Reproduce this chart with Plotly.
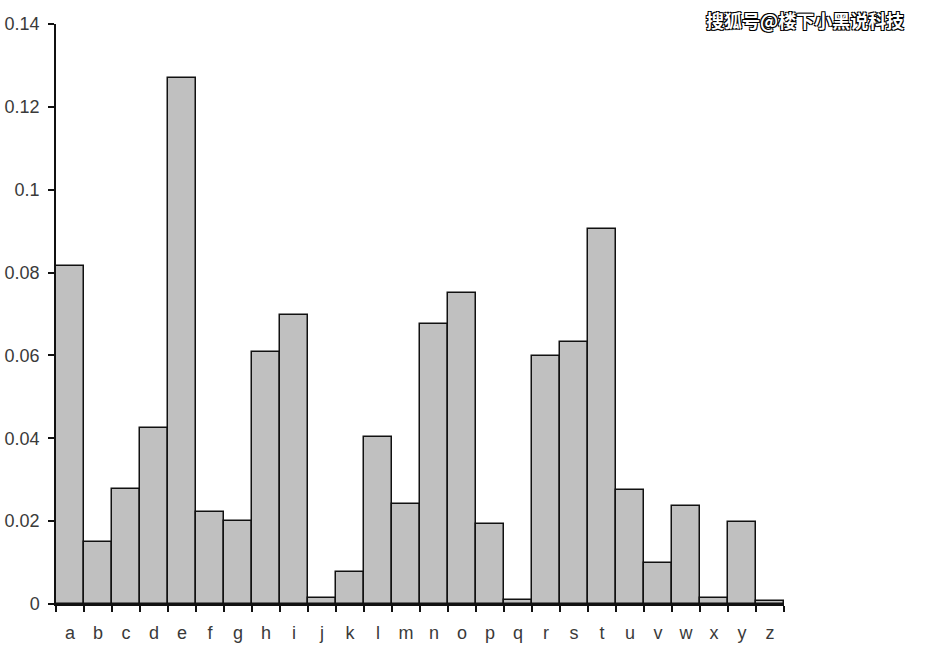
import plotly.graph_objects as graph_objects

# letter frequencies in English text
letters = list("abcdefghijklmnopqrstuvwxyz")
frequencies = [0.08167, 0.01492, 0.02782, 0.04253, 0.12702, 0.02228, 0.02015, 0.06094,
               0.06966, 0.00153, 0.00772, 0.04025, 0.02406, 0.06749, 0.07507, 0.01929,
               0.00095, 0.05987, 0.06327, 0.09056, 0.02758, 0.00978, 0.02360, 0.00150,
               0.01974, 0.00074]
y_ticks = [0, 0.02, 0.04, 0.06, 0.08, 0.1, 0.12, 0.14]
y_tick_labels = ["0", "0.02", "0.04", "0.06", "0.08", "0.1", "0.12", "0.14"]
watermark = "搜狐号@楼下小黑说科技"

fig = graph_objects.Figure()
fig.add_trace(
    graph_objects.Bar(x=letters, y=frequencies, marker_color='#c0c0c0',
                      marker_line=dict(color='#111111', width=1.5))
)

fig.update_layout(
    width=927,
    height=649,
    margin=dict(l=56, r=143, t=24, b=45),
    plot_bgcolor='white',
    paper_bgcolor='white',
    bargap=0,
    showlegend=False,
    font=dict(family='Liberation Sans, Arial, sans-serif', size=18, color='#3a3a3a'),
)
fig.update_xaxes(
    type='category', tickson='boundaries', ticks='outside', ticklen=6, tickwidth=1.5,
    tickcolor='#111111', showline=True, linecolor='#111111', linewidth=1.5,
    showgrid=False, zeroline=False, ticklabelstandoff=12, automargin=False,
    tickfont=dict(size=18, color='#3a3a3a'),
)
fig.update_yaxes(
    range=[0, 0.14], tickvals=y_ticks, ticktext=y_tick_labels, ticks='outside', ticklen=6,
    tickwidth=1.5, tickcolor='#111111', showline=True, linecolor='#111111', linewidth=1.5,
    showgrid=False, zeroline=False, ticklabelstandoff=5, automargin=False,
    tickfont=dict(size=18, color='#3a3a3a'),
)

# watermark in the top right corner
fig.add_annotation(
    text=watermark, xref='paper', yref='paper', x=1.1676, y=1.007,
    xanchor='right', yanchor='middle', showarrow=False,
    font=dict(family='Noto Sans CJK SC', size=18, color='white', weight='bold',
              shadow='1px 1px 0 #000, -1px -1px 0 #000, 1px -1px 0 #000, -1px 1px 0 #000'),
)

# drop the default 8px body margin so the figure sits at the page corner
fig.write_html("out.html", config={'displayModeBar': False},
               post_script="document.body.style.margin='0px';")
